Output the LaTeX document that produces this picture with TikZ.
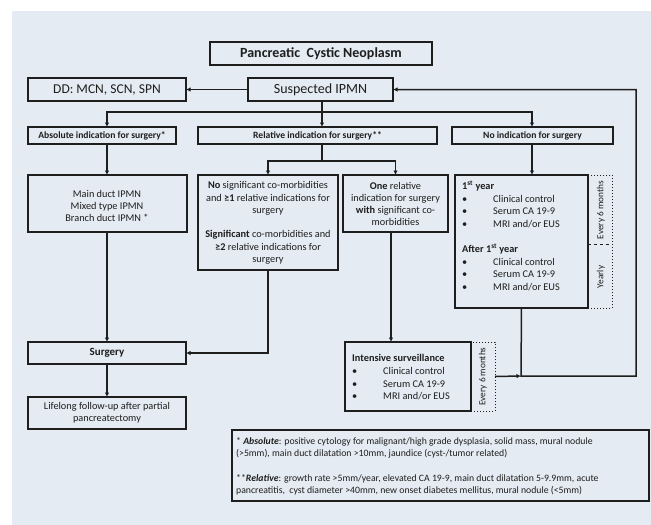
\documentclass[tikz,border=0pt]{standalone}
\usepackage{fontspec}
\setmainfont{Carlito}
\usetikzlibrary{arrows.meta}
\definecolor{bgc}{HTML}{E4EBF2}
\definecolor{lc}{HTML}{1E1E1E}
\newcommand{\bx}[6][]{\node[box,#1,minimum width={#4-#2},minimum height={#5-#3}] (#6) at ({(#2+#4)/2},{(#3+#5)/2}) {};}
\newcommand{\fs}[1]{\fontsize{#1}{12.3}\selectfont}
\tikzset{
  box/.style={draw=lc, line width=1.5pt, rectangle, inner sep=0pt, outer sep=0pt},
  side/.style={draw=lc, line width=1pt, dotted},
  tx/.style={inner sep=0pt, text=lc},
  con/.style={draw=lc, line width=1.5pt},
  arr/.style={con, -{Latex[length=4.5pt,width=4.5pt]}}
}
\begin{document}
\begin{tikzpicture}[x=1pt,y=-1pt]
\useasboundingbox (0,0) rectangle (651,525);
\fill[bgc] (12,11) rectangle (651,525);
% boxes
\bx{210}{42}{432}{65}{title}
\bx{28}{78}{186}{101}{dd}
\bx{248}{78}{393}{101}{susp}
\bx{28}{127}{176}{144}{abs}
\bx{198}{127}{437}{144}{rel}
\bx{452}{127}{613}{144}{noind}
\bx{28}{175}{187}{232}{main}
\bx{198}{175}{338}{270}{nosig}
\bx{343}{175}{448}{232}{one}
\bx{455}{175}{588}{308}{year}
\bx[side]{588}{175}{612}{308}{yside}
\bx{28}{342}{186}{364}{surg}
\bx{28}{397}{186}{429}{life}
\bx{345}{342}{471}{411}{intens}
\bx[side]{471}{342}{495}{411}{iside}
\bx{232}{430}{649}{501}{foot}
\draw[lc, line width=1pt, dashed] (588,244) -- (612,244);
% texts
\node[tx,font=\bfseries\fs{14}] at (title) {Pancreatic\ \ Cystic Neoplasm};
\node[tx,font=\fs{13.5}] at (dd) {DD: MCN, SCN, SPN};
\node[tx,font=\fs{14}] at (susp) {Suspected IPMN};
\node[tx,font=\bfseries\fs{9.6}] at (abs) {Absolute indication for surgery*};
\node[tx,font=\bfseries\fs{9.6}] at (rel) {Relative indication for surgery**};
\node[tx,font=\bfseries\fs{9.6}] at (noind) {No indication for surgery};
\node[tx,font=\fs{10.3},align=center] at (107,206) {Main duct IPMN\\Mixed type IPMN\\Branch duct IPMN *};
\node[tx,font=\fs{10.3},align=center] at (268,223) {\textbf{No} significant co-morbidities\\and \textbf{≥1} relative indications for\\surgery\\[12pt]\textbf{Significant} co-morbidities and\\\textbf{≥2} relative indications for\\surgery};
\node[tx,font=\fs{10.3},align=center] at (395.5,204) {\textbf{One} relative\\indication for surgery\\\textbf{with} significant co-\\morbidities};
% year box
\node[tx,font=\bfseries\fs{10.3},anchor=base west] at (462,189.5) {1\textsuperscript{st} year};
\foreach \yy/\tt in {202/{Clinical control},214.5/{Serum CA 19-9},227/{MRI and/or EUS},265/{Clinical control},277.5/{Serum CA 19-9},290/{MRI and/or EUS}}{
  \node[tx,font=\fs{10.3},anchor=base west] at (462,\yy) {•};
  \node[tx,font=\fs{10.3},anchor=base west] at (493,\yy) {\tt};
}
\node[tx,font=\bfseries\fs{10.3},anchor=base west] at (462,252.5) {After 1\textsuperscript{st} year};
\node[tx,font=\fs{9.3},rotate=90] at (601,210) {Every 6 months};
\node[tx,font=\fs{9.3},rotate=90] at (601,277) {Yearly};
% surgery
\node[tx,font=\bfseries\fs{11}] at (surg) {Surgery};
\node[tx,font=\fs{10.3},align=center] at (life) {Lifelong follow-up after partial\\pancreatectomy};
% intensive
\node[tx,font=\bfseries\fs{10.3},anchor=base west] at (352,361.5) {Intensive surveillance};
\foreach \yy/\tt in {374.5/{Clinical control},387/{Serum CA 19-9},399.5/{MRI and/or EUS}}{
  \node[tx,font=\fs{10.3},anchor=base west] at (352,\yy) {•};
  \node[tx,font=\fs{10.3},anchor=base west] at (383,\yy) {\tt};
}
\node[tx,font=\fs{9.3},rotate=90] at (iside) {Every 6 months};
% footnote
\node[tx,font=\fs{9.75},anchor=base west] at (236,444.5) {* \textbf{\textit{Absolute}}: positive cytology for malignant/high grade dysplasia, solid mass, mural nodule};
\node[tx,font=\fs{9.75},anchor=base west] at (236,456.5) {(>5mm), main duct dilatation >10mm, jaundice (cyst-/tumor related)};
\node[tx,font=\fs{9.75},anchor=base west] at (236,481.5) {**\textbf{\textit{Relative}}: growth rate >5mm/year, elevated CA 19-9, main duct dilatation 5-9.9mm, acute};
\node[tx,font=\fs{9.75},anchor=base west] at (236,493.5) {pancreatitis,\ \ cyst diameter >40mm, new onset diabetes mellitus, mural nodule (<5mm)};
% connectors
\coordinate (sp) at (322,112);
\coordinate (bl) at (107,112);
\coordinate (br) at (532,112);
\coordinate (rs) at (322,161);
\coordinate (ox) at (391,0);
\coordinate (c1) at (521,376);
\coordinate (c2) at (636,376);
\draw[arr] (susp.west) -- (dd.east);
\draw[arr] (susp.south -| sp) -- (sp |- rel.north);
\draw[arr] (sp) -- (bl) -- (bl |- abs.north);
\draw[arr] (sp) -- (br) -- (br |- noind.north);
\draw[arr] (bl |- abs.south) -- (bl |- main.north);
\draw[arr] (bl |- main.south) -- (bl |- surg.north);
\draw[arr] (surg.south) -- (life.north);
\draw[con] (sp |- rel.south) -- (rs);
\draw[arr] (rs) -| (nosig.north);
\draw[arr] (rs) -| (one.north);
\draw[arr] (br |- noind.south) -- (br |- year.north);
\draw[arr] (nosig.south) |- (surg.east);
\draw[arr] (one.south -| ox) -- (ox |- intens.north);
\draw[arr] (iside.east) -- (c1);
\draw[arr] (year.south) -- (c1) -- (c2) |- (susp.east);
\end{tikzpicture}
\end{document}
